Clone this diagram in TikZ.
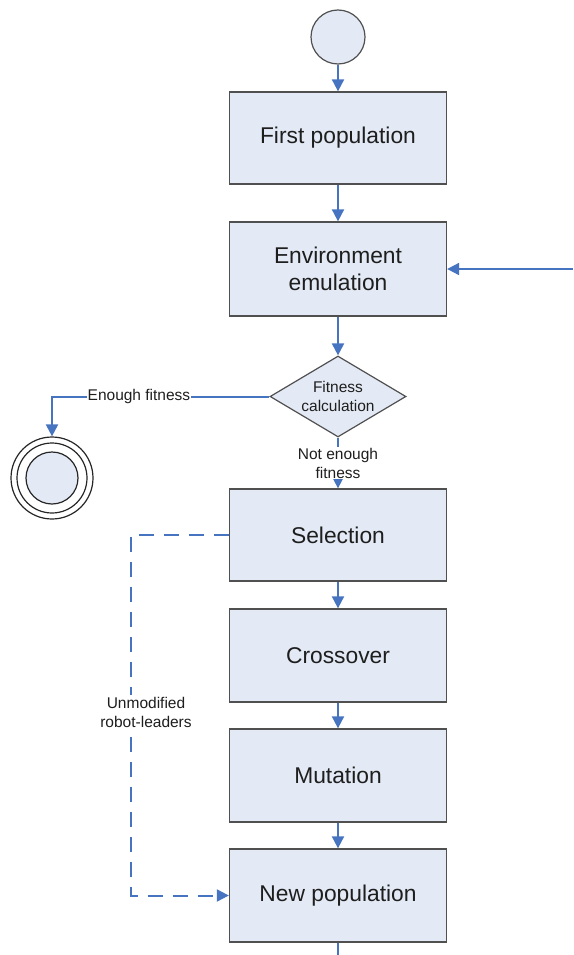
\documentclass[tikz,border=0pt]{standalone}
\usepackage{fontspec}
\setmainfont{Liberation Sans}
\usetikzlibrary{arrows.meta,shapes.geometric}

\definecolor{flowblue}{RGB}{70,116,192}
\definecolor{boxfill}{RGB}{228,234,245}
\definecolor{boxline}{RGB}{80,80,80}
\definecolor{txt}{RGB}{30,30,30}

\tikzset{
  stepbox/.style={rectangle, draw=boxline, fill=boxfill, line width=1.3pt,
    minimum width=217pt, minimum height=92pt, inner sep=0pt,
    font=\fontsize{22.8}{27}\selectfont, text=txt, align=center},
  decision/.style={diamond, draw=boxline, fill=boxfill, line width=1.2pt,
    minimum width=136pt, minimum height=81pt, inner sep=0pt, aspect=1.68},
  smalltxt/.style={font=\fontsize{15.5}{19}\selectfont, text=txt, align=center},
  flow/.style={draw=flowblue, line width=2pt,
    -{Triangle[length=12pt,width=12pt]}},
  plainflow/.style={draw=flowblue, line width=2pt},
  leaderflow/.style={flow, dash pattern=on 15pt off 10pt},
  initstate/.style={circle, draw=boxline, fill=boxfill, line width=1.2pt,
    minimum size=54pt, inner sep=0pt},
  ring/.style={circle, draw=black!85, line width=1.2pt, inner sep=0pt},
}

\begin{document}
\begin{tikzpicture}[x=1pt, y=-1pt]
  \useasboundingbox (0,0) rectangle (573,955);

  % main chain of steps
  \node[initstate] (start) at (338,37) {};
  \node[stepbox] (first) at (338,138) {First population};
  \node[stepbox, minimum height=94pt] (env) at (338,269) {Environment\\emulation};
  \node[decision] (fit) at (338,396.5) {};
  \node[smalltxt] (fittxt) at (338,396) {Fitness\\calculation};
  \node[stepbox] (sel) at (338,535) {Selection};
  \node[stepbox, minimum height=93pt] (cross) at (338,655.5) {Crossover};
  \node[stepbox, minimum height=93pt] (mut) at (338,775.5) {Mutation};
  \node[stepbox, minimum height=93pt] (newp) at (338,895.5) {New population};

  % final state
  \node[ring, minimum size=82pt] (endout) at (52,478) {};
  \node[ring, minimum size=70pt] (endmid) at (52,478) {};
  \node[ring, fill=boxfill, minimum size=52pt] (endin) at (52,478) {};

  % loose ends of the loop
  \coordinate (loopin) at (573,269);
  \coordinate (loopout) at (338,955);

  % connectors
  \draw[flow] (start) -- (first);
  \draw[flow] (first) -- (env);
  \draw[flow] (loopin) -- (env.east);
  \draw[flow] (env) -- (fit.north);
  \draw[flow] (fit.west) -| node[pos=0.3, fill=white, smalltxt, inner sep=1pt] {Enough fitness} (endout.north);
  \draw[flow] (fit.south) -- node[midway, fill=white, smalltxt, inner sep=1pt] {Not enough\\fitness} (sel.north);
  \draw[flow] (sel) -- (cross);
  \draw[flow] (cross) -- (mut);
  \draw[flow] (mut) -- (newp);
  \draw[plainflow] (newp) -- (loopout);

  % leaders bypass
  \coordinate (bypassTop) at (131,535);
  \coordinate (bypassBot) at (131,895.5);
  \draw[leaderflow] (sel.west) -- (bypassTop) -- (bypassBot) -- (newp.west);
  \node[smalltxt, fill=white, inner sep=2pt] (leaders) at (146,712) {Unmodified\\robot-leaders};
\end{tikzpicture}
\end{document}
